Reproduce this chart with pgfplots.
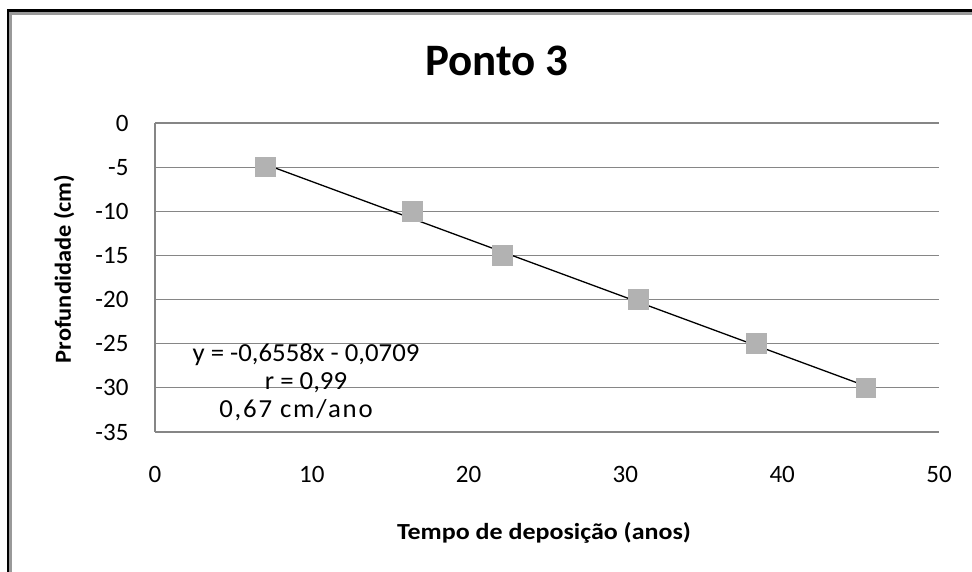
\documentclass[border=0pt]{standalone}
\usepackage{pgfplots}
\pgfplotsset{compat=1.18}
\usepackage{fontspec}
\setmainfont{Carlito}
\newfontfamily\xlabfont[FakeStretch=1.13]{Carlito}
\newfontfamily\ylabfont[FakeStretch=1.06]{Carlito}
\newfontfamily\annfont[FakeStretch=1.03]{Carlito}
\newfontfamily\annwidefont[FakeStretch=1.03, LetterSpace=7]{Carlito}
\definecolor{gridgray}{HTML}{868686}
\definecolor{markgray}{HTML}{B2B2B2}
\begin{document}
\begin{tikzpicture}[x=1pt,y=1pt]
\useasboundingbox (0,0) rectangle (972,572);
\fill[white] (0,0) rectangle (972,572);
% outer frame
\draw[gray!80, line width=3pt] (10.8,0) -- (10.8,558.3) -- (972,558.3);
\draw[black, line width=2.7pt] (8,0) -- (8,561.2) -- (972,561.2);
\begin{axis}[
  at={(155pt,140pt)}, anchor=south west,
  scale only axis, width=784pt, height=309pt,
  xmin=0, xmax=50, ymin=-35, ymax=0,
  xtick={0,10,...,50}, ytick={-35,-30,...,0},
  xticklabels={0,10,20,30,40,50},
  yticklabels={-35,-30,-25,-20,-15,-10,-5,0},
  axis lines*=left,
  axis line style={gridgray, line width=1.2pt, -},
  ymajorgrids,
  grid style={gridgray, line width=1.2pt},
  major tick length=0pt,
  tick label style={font=\fontsize{25}{30}\selectfont, text=black},
  xticklabel style={yshift=-31pt},
  yticklabel style={xshift=-23pt},
  clip=false,
]
\addplot[markgray, only marks, mark=square*, mark size=9.8pt, mark options={fill=markgray, draw=markgray, line width=0pt}]
  coordinates {(7.06,-5) (16.42,-10) (22.16,-15) (30.84,-20) (38.36,-25) (45.34,-30)};
\addplot[black, line width=1.3pt, no marks] coordinates {(7.06,-4.70) (45.34,-29.80)};
\end{axis}
\node[font=\bfseries\fontsize{45}{54}\selectfont, anchor=base] at (497,496) {Ponto 3};
\node[font=\ylabfont\bfseries\fontsize{23}{28}\selectfont, rotate=90] at (64,303) {Profundidade (cm)};
\node[font=\xlabfont\bfseries\fontsize{23}{28}\selectfont, anchor=base] at (544,32) {Tempo de deposição (anos)};
\node[font=\annfont\fontsize{26}{30}\selectfont, anchor=base] at (306,210) {y = -0,6558x - 0,0709};
\node[font=\annfont\fontsize{26}{30}\selectfont, anchor=base] at (306,182) {r = 0,99};
\node[font=\annwidefont\fontsize{26}{30}\selectfont, anchor=base] at (296,154) {0,67 cm/ano};
\end{tikzpicture}
\end{document}
